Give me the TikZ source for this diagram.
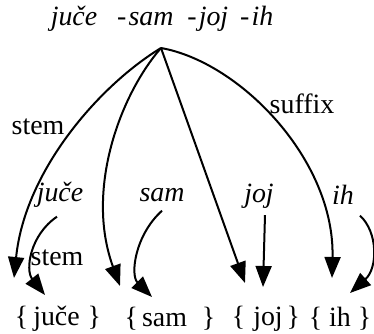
\documentclass[tikz,border=0pt]{standalone}
\usepackage{fontspec}
\setmainfont{Liberation Serif}
\usetikzlibrary{arrows.meta}

\begin{document}
\begin{tikzpicture}[x=1bp, y=-1bp, >={Triangle[length=21bp,width=16bp]},
    line width=2bp, font=\fontsize{28}{32}\selectfont, inner sep=0pt]
    \useasboundingbox (0,0) rectangle (374,334);

    % Word form at the top
    \node (word) at (162,19) {\itshape juče\hspace{20bp}-\kern2bp sam\hspace{14bp}-\kern2bp joj\hspace{12bp}-\kern2bp ih};
    \coordinate (root) at (161,48);

    % Labels
    \node (ljuce) at (60,195) {\itshape juče};
    \node (lsam) at (162,195) {\itshape sam};
    \node (ljoj) at (259,196) {\itshape joj};
    \node (lih) at (343,195) {\itshape ih};
    \node (lstem) at (38,127) {stem};
    \node (lsuffix) at (302,104) {suffix};
    \node (lstemb) at (57,258) {stem};

    % Sets at the bottom
    \node (sjuce) at (58,319) {\{\kern5bp juče\kern8bp\}};
    \node (ssam) at (170,319) {\{\kern4bp sam\kern15bp\}};
    \node (sjoj) at (266,319) {\{\kern8bp joj\kern4bp\}};
    \node (sih) at (340,319) {\{\kern7bp ih\kern7bp\}};

    % Arrow tips
    \coordinate (tjuce) at (14,278);
    \coordinate (tsam) at (120,286);
    \coordinate (tjoj) at (245,283);
    \coordinate (tih) at (332,278);
    \coordinate (bjuce) at (45,295);
    \coordinate (bsam) at (152,297);
    \coordinate (bjoj) at (263,287);
    \coordinate (bih) at (350,293);

    % Arcs from the word form
    \draw[->] (root) .. controls (100,85) and (25,170) .. (tjuce);
    \draw[->] (root) .. controls (120,95) and (85,190) .. (tsam);
    \draw[->] (root) -- (tjoj);
    \draw[->] (root) .. controls (240,62) and (335,160) .. (tih);

    % Arcs from the labels
    \draw[->] ([xshift=-3bp,yshift=-8bp]ljuce.south) .. controls (30,235) and (25,270) .. (bjuce);
    \draw[->] ([yshift=-8bp]lsam.south) .. controls (135,235) and (130,275) .. (bsam);
    \draw[->] ([xshift=6bp,yshift=-6bp]ljoj.south) -- (bjoj);
    \draw[->] ([xshift=17bp,yshift=-10bp]lih.south) .. controls (378,232) and (378,268) .. (bih);
\end{tikzpicture}
\end{document}
